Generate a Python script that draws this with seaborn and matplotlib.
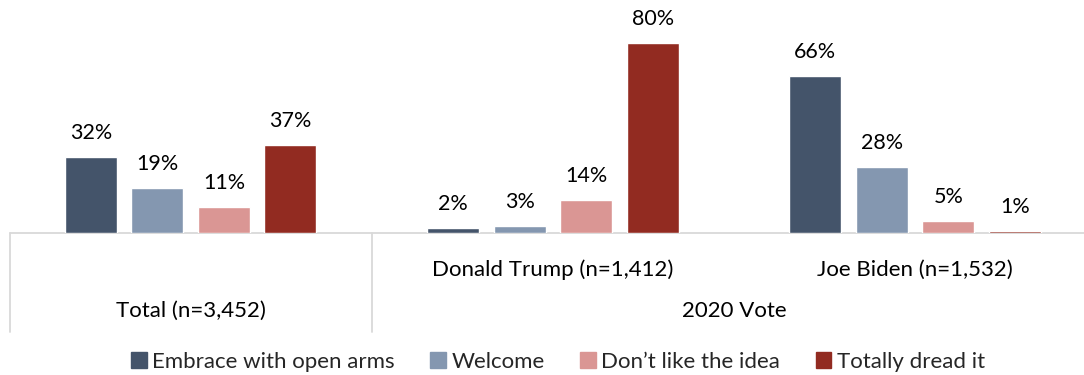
import matplotlib
matplotlib.use("Agg")
import matplotlib.pyplot as plt
import matplotlib.patches as mpatches
import matplotlib.lines as mlines
import seaborn as sns
import pandas as pd

groups = ["Total (n=3,452)", "Donald Trump (n=1,412)", "Joe Biden (n=1,532)"]
responses = ["Embrace with open arms", "Welcome", "Don\u2019t like the idea", "Totally dread it"]
embrace = [32, 2, 66]
welcome = [19, 3, 28]
dislike = [11, 14, 5]
dread = [37, 80, 1]
colors = ["#44546A", "#8497B0", "#DA9694", "#922B21"]

rows = []
for resp, vals in zip(responses, [embrace, welcome, dislike, dread]):
    for g, v in zip(groups, vals):
        rows.append({"group": g, "response": resp, "value": v})
df = pd.DataFrame(rows)

sns.set_style("white")
plt.rcParams["font.family"] = ["Lato", "DejaVu Sans"]

W, H = 1084, 375
fig = plt.figure(figsize=(W / 100, H / 100), dpi=100)
left_px, pitch = 9.5, 362.25
top_px, base_px = 5, 233
ax = fig.add_axes([left_px / W, (H - base_px) / H, 3 * pitch / W, (base_px - top_px) / H])

sns.barplot(data=df, x="group", y="value", hue="response", order=groups,
            hue_order=responses, palette=colors, width=0.734, gap=0.218,
            ax=ax, legend=False, saturation=1, zorder=2)

ax.set_xlim(-0.5, 2.5)
ax.set_ylim(0, (base_px - top_px) / 2.375)
for c in ax.containers:
    ax.bar_label(c, labels=[f"{int(v)}%" for v in c.datavalues], padding=10,
                 fontsize=15.5, color="#000000")

for s in ax.spines.values():
    s.set_visible(False)
ax.set_xticks([])
ax.set_yticks([])
ax.set_xlabel("")
ax.set_ylabel("")

# category axis lines
line_c = "#D9D9D9"
ax.axhline(0, color=line_c, lw=1.3, clip_on=False, zorder=0.5)
for xv in [-0.5, 0.5]:
    ln = mlines.Line2D([xv, xv], [0, -(332 - base_px) / (base_px - top_px)],
                       transform=ax.get_xaxis_transform(), color=line_c, lw=1.3,
                       clip_on=False)
    ax.add_line(ln)

def cat_label(x, dy, text):
    ax.annotate(text, xy=(x, 0), xycoords=("data", "axes fraction"),
                xytext=(0, -dy), textcoords="offset pixels",
                ha="center", va="center", fontsize=16, color="#000000")

cat_label(0, 311 - base_px, groups[0])
cat_label(1, 270 - base_px, groups[1])
cat_label(2, 270 - base_px, groups[2])
cat_label(1.5, 311 - base_px, "2020 Vote")

handles = [mpatches.Patch(color=c, label=r) for c, r in zip(colors, responses)]
fig.legend(handles=handles, loc="center", bbox_to_anchor=(558 / W, (H - 362) / H),
           ncol=4, frameon=False, fontsize=16, handlelength=0.7, handleheight=0.7,
           handletextpad=0.25, columnspacing=1.6, borderpad=0, borderaxespad=0)

fig.savefig("out.png", dpi=100)
